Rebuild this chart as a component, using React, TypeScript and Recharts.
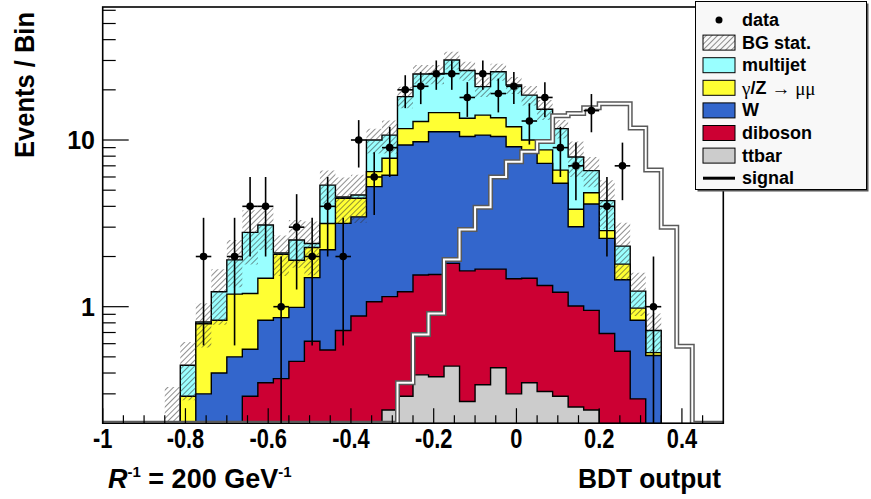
import React from 'react';
import { Area, ComposedChart, ErrorBar, Line, Scatter, XAxis, YAxis } from 'recharts';

// BDT output bins: 40 bins of 0.0375 from -1 to 0.5
const binEdges = [
  -1, -0.9625, -0.925, -0.8875, -0.85, -0.8125, -0.775, -0.7375, -0.7, -0.6625,
  -0.625, -0.5875, -0.55, -0.5125, -0.475, -0.4375, -0.4, -0.3625, -0.325, -0.2875,
  -0.25, -0.2125, -0.175, -0.1375, -0.1, -0.0625, -0.025, 0.0125, 0.05, 0.0875,
  0.125, 0.1625, 0.2, 0.2375, 0.275, 0.3125, 0.35, 0.3875, 0.425, 0.4625, 0.5,
];

// background processes, events per bin
const ttbar = [
  0, 0, 0, 0, 0, 0, 0, 0, 0, 0, 0, 0, 0, 0, 0, 0, 0, 0.05, 0.24, 0.29,
  0.39, 0.38, 0.44, 0.27, 0.34, 0.43, 0.3, 0.35, 0.31, 0.29, 0.25, 0.24, 0.1, 0.05, 0.02, 0, 0, 0, 0, 0,
];
const diboson = [
  0, 0, 0, 0, 0, 0, 0.02, 0.05, 0.19, 0.29, 0.35, 0.37, 0.47, 0.62, 0.55, 0.72, 0.88, 1.02, 0.91, 0.94,
  1.16, 1.18, 1.38, 1.37, 1.34, 1.25, 1.17, 1.13, 1.03, 0.93, 0.76, 0.71, 0.59, 0.49, 0.26, 0.15, 0, 0, 0, 0,
];
const wjets = [
  0, 0, 0, 0, 0.02, 0.1, 0.28, 0.35, 0.31, 0.265, 0.48, 0.49, 0.52, 0.875, 1.645, 2.44, 2.58, 4.18, 5.0, 8.1,
  8.21, 9.64, 9.38, 8.86, 9.02, 8.82, 7.65, 7.24, 5.9, 4.28, 2.01, 3.18, 1.88, 0.91, 0.55, 0.36, 0, 0, 0, 0,
];
const zmumu = [
  0, 0, 0, 0, 0.06, 0.19, 0.49, 0.43, 0.69, 0.645, 0.65, 1.2, 0.91, 0.77, 0.96, 1.31, 1.01, 1.21, 1.62, 2.37,
  3.14, 3.4, 3.4, 3.0, 3.4, 3.1, 2.88, 1.28, 1.48, 1.1, 0.82, 0.7, 0.29, 0.35, 0.15, 0.02, 0, 0, 0, 0,
];
const multijet = [
  0, 0, 0, 0, 0.05, 0.155, 0.02, 0.4, 0.72, 1.59, 1.61, 0.04, 0.61, 0.13, 2.21, 0.08, 0.21, 3.54, 2.93, 6.5,
  12.0, 10.3, 15.6, 12.6, 6.8, 12.1, 9.4, 8.6, 6.58, 5.1, 4.06, 1.72, 1.47, 0.51, 0.26, 0.19, 0, 0, 0, 0,
];
// statistical uncertainty of the total background
const bgStat = [
  0, 0, 0, 0, 0.2, 0.17, 0.24, 0.45, 0.6, 1.0, 0.9, 0.57, 0.8, 0.85, 1.2, 1.4, 1.5, 1.7, 2.4, 2.7,
  3.3, 3.3, 3.7, 3.4, 2.8, 3.0, 2.5, 2.5, 2.1, 1.5, 1.9, 1.35, 1.4, 0.88, 0.36, 0.19, 0, 0, 0, 0,
];
const dataCounts = [
  0, 0, 0, 0, 0, 0, 2, 0, 2, 4, 4, 1, 3, 2, 4, 2, 10, 6, 9, 20,
  21, 25, 25, 18, 25, 19, 21, 13, 18, 9, 7, 15, 4, 7, 0, 1, 0, 0, 0, 0,
];
const signal = [
  0.1, 0.1, 0.1, 0.1, 0.1, 0.1, 0.1, 0.1, 0.1, 0.1, 0.1, 0.1, 0.1, 0.1, 0.1, 0.1, 0.1, 0.1, 0.1, 0.35,
  0.68, 0.91, 1.92, 2.9, 3.95, 6.0, 7.4, 8.5, 9.8, 14.0, 14.4, 15.6, 16.5, 16.5, 11.8, 6.6, 3.0, 0.58, 0.1, 0.1,
];

const xMajor = [-1, -0.8, -0.6, -0.4, -0.2, 0, 0.2, 0.4];
const xMinor = [-0.95, -0.9, -0.85, -0.75, -0.7, -0.65, -0.55, -0.5, -0.45, -0.35, -0.3, -0.25,
  -0.15, -0.1, -0.05, 0.05, 0.1, 0.15, 0.25, 0.3, 0.35, 0.45];
const yMajor = [1, 10];
const yMinor = [0.3, 0.4, 0.5, 0.6, 0.7, 0.8, 0.9, 2, 3, 4, 5, 6, 7, 8, 9, 20, 30, 40, 50, 60];

const W = 871;
const H = 499;
const PLOT_L = 102.7;
const PLOT_R = 723.3;
const PLOT_T = 7;
const PLOT_B = 423.2;
const Y_MIN = 0.2;
const Y_MAX = 62.8;
const FLOOR = 0.01;
const FONT = '"Liberation Sans", Arial, Helvetica, sans-serif';

const C_MJ = '#99ffff';
const C_Z = '#ffff33';
const C_W = '#3366cc';
const C_VV = '#cc0033';
const C_TT = '#cccccc';

// cumulative stack tops; the closing edge repeats the last bin for the step curves
const rows = binEdges.map((x, i) => {
  const k = Math.min(i, ttbar.length - 1);
  const tt = ttbar[k];
  const vv = tt + diboson[k];
  const w = vv + wjets[k];
  const z = w + zmumu[k];
  const mj = z + multijet[k];
  return {
    x,
    tt: Math.max(tt, FLOOR),
    vv: Math.max(vv, FLOOR),
    w: Math.max(w, FLOOR),
    z: Math.max(z, FLOOR),
    mj: Math.max(mj, FLOOR),
    band: [Math.max(mj - bgStat[k], FLOOR), Math.max(mj + bgStat[k], FLOOR)],
    sig: Math.max(signal[k], Y_MIN),
  };
});

const points = dataCounts.flatMap((n, k) =>
  n > 0
    ? [{
        x: (binEdges[k] + binEdges[k + 1]) / 2,
        n,
        ey: [n - Math.max(n - Math.sqrt(n), Y_MIN), Math.sqrt(n)],
        ex: (binEdges[k + 1] - binEdges[k]) / 2,
      }]
    : []
);

function fmtX(v) {
  return String(Math.round(v * 10) / 10);
}

function XTick(props) {
  const { x, payload } = props;
  const major = xMajor.includes(payload.value);
  return (
    <g>
      <line x1={x} x2={x} y1={PLOT_B} y2={PLOT_B - (major ? 15 : 8)} stroke="#000" strokeWidth={1.2} />
      {major && (
        <text
          transform={`translate(${x},${PLOT_B + 15}) scale(0.78,1)`}
          textAnchor="middle"
          dominantBaseline="central"
          fontSize={28}
          fontWeight="bold"
          fontFamily={FONT}
          fill="#000"
        >
          {fmtX(payload.value)}
        </text>
      )}
    </g>
  );
}

function YTick(props) {
  const { y, payload } = props;
  const major = yMajor.includes(payload.value);
  return (
    <g>
      <line x1={PLOT_L} x2={PLOT_L + (major ? 26 : 13)} y1={y} y2={y} stroke="#000" strokeWidth={1.2} />
      {major && (
        <text x={95} y={y} textAnchor="end" dominantBaseline="central" fontSize={25} fontWeight="bold" fontFamily={FONT} fill="#000">
          {payload.value}
        </text>
      )}
    </g>
  );
}

const legendRows = [
  { label: 'data', kind: 'dot' },
  { label: 'BG stat.', kind: 'hatch' },
  { label: 'multijet', kind: 'box', color: C_MJ },
  { label: 'zmm', kind: 'box', color: C_Z },
  { label: 'W', kind: 'box', color: C_W },
  { label: 'diboson', kind: 'box', color: C_VV },
  { label: 'ttbar', kind: 'box', color: C_TT },
  { label: 'signal', kind: 'line' },
];

function Overlay() {
  return (
    <svg width={W} height={H} style={{ position: 'absolute', left: 0, top: 0, pointerEvents: 'none' }}>
      <defs>
        <pattern id="legHatch" patternUnits="userSpaceOnUse" width={4} height={4} patternTransform="rotate(45)">
          <line x1={0} y1={0} x2={0} y2={4} stroke="#333" strokeWidth={1.1} />
        </pattern>
      </defs>
      <rect x={PLOT_L} y={PLOT_T} width={PLOT_R - PLOT_L} height={PLOT_B - PLOT_T} fill="none" stroke="#000" strokeWidth={1.6} />
      <text
        transform="translate(34,85) rotate(-90)"
        textAnchor="middle"
        fontSize={27}
        fontWeight="bold"
        fontFamily={FONT}
        textLength={146}
        lengthAdjust="spacingAndGlyphs"
      >
        Events / Bin
      </text>
      <text x={721} y={488} textAnchor="end" fontSize={27} fontWeight="bold" fontFamily={FONT} textLength={143} lengthAdjust="spacingAndGlyphs">
        BDT output
      </text>
      <text x={108} y={488} fontSize={27} fontWeight="bold" fontFamily={FONT}>
        <tspan fontStyle="italic">R</tspan>
        <tspan dy={-11} fontSize={15}>-1</tspan>
        <tspan dy={11}> = 200 GeV</tspan>
        <tspan dy={-11} fontSize={15}>-1</tspan>
      </text>
      <g>
        <rect x={697.5} y={3.5} width={171} height={188} fill="#555" />
        <rect x={695.5} y={1.5} width={171} height={188} fill="#f8f8f8" stroke="#000" strokeWidth={1} />
        {legendRows.map((r, i) => {
          const cy = 20 + 22.6 * i;
          let icon;
          if (r.kind === 'dot') icon = <circle cx={719} cy={cy} r={3.5} fill="#000" />;
          else if (r.kind === 'line') icon = <line x1={703} x2={735} y1={cy} y2={cy} stroke="#000" strokeWidth={3} />;
          else
            icon = (
              <rect
                x={703}
                y={cy - 7.5}
                width={32}
                height={15}
                fill={r.kind === 'hatch' ? 'url(#legHatch)' : r.color}
                stroke="#000"
                strokeWidth={1}
              />
            );
          return (
            <g key={r.label}>
              {icon}
              <text x={742} y={cy} dominantBaseline="central" fontSize={18} fontWeight="bold" fontFamily={FONT}>
                {r.label === 'zmm' ? (
                  <>
                    <tspan fontWeight="normal" fontFamily='"Liberation Serif", serif' fontSize={19}>γ</tspan>
                    <tspan>/Z </tspan>
                    <tspan fontWeight="normal" fontFamily='"Liberation Serif", serif' fontSize={19}>→ μμ</tspan>
                  </>
                ) : (
                  r.label
                )}
              </text>
            </g>
          );
        })}
      </g>
    </svg>
  );
}

export default function App() {
  return (
    <div style={{ position: 'absolute', left: 0, top: 0, width: W, height: H, background: '#fff' }}>
      <ComposedChart
        width={W}
        height={H}
        data={rows}
        margin={{ top: PLOT_T, right: W - PLOT_R, bottom: 0, left: 0 }}
      >
        <defs>
          <pattern id="bgHatch" patternUnits="userSpaceOnUse" width={4} height={4} patternTransform="rotate(45)">
            <line x1={0} y1={0} x2={0} y2={4} stroke="#333" strokeWidth={1.1} />
          </pattern>
        </defs>
        <XAxis
          dataKey="x"
          type="number"
          domain={[-1, 0.5]}
          allowDataOverflow
          ticks={[...xMajor, ...xMinor]}
          interval={0}
          tick={(p) => <XTick {...p} />}
          tickLine={false}
          axisLine={false}
          height={H - PLOT_B}
        />
        <YAxis
          type="number"
          scale="log"
          domain={[Y_MIN, Y_MAX]}
          allowDataOverflow
          ticks={[...yMinor, ...yMajor]}
          interval={0}
          tick={(p) => <YTick {...p} />}
          tickLine={false}
          axisLine={false}
          width={PLOT_L}
        />
        <Area dataKey="mj" type="stepAfter" baseValue={Y_MIN} fill={C_MJ} fillOpacity={1} stroke="#000" strokeWidth={1.4} dot={false} activeDot={false} isAnimationActive={false} />
        <Area dataKey="z" type="stepAfter" baseValue={Y_MIN} fill={C_Z} fillOpacity={1} stroke="#000" strokeWidth={1.4} dot={false} activeDot={false} isAnimationActive={false} />
        <Area dataKey="w" type="stepAfter" baseValue={Y_MIN} fill={C_W} fillOpacity={1} stroke="#000" strokeWidth={1.4} dot={false} activeDot={false} isAnimationActive={false} />
        <Area dataKey="vv" type="stepAfter" baseValue={Y_MIN} fill={C_VV} fillOpacity={1} stroke="#000" strokeWidth={1.4} dot={false} activeDot={false} isAnimationActive={false} />
        <Area dataKey="tt" type="stepAfter" baseValue={Y_MIN} fill={C_TT} fillOpacity={1} stroke="#000" strokeWidth={1.4} dot={false} activeDot={false} isAnimationActive={false} />
        <Area dataKey="band" type="stepAfter" fill="url(#bgHatch)" fillOpacity={1} stroke="none" dot={false} activeDot={false} isAnimationActive={false} />
        <Line dataKey="sig" type="stepAfter" stroke="#5a5a5a" strokeWidth={5} dot={false} activeDot={false} isAnimationActive={false} />
        <Line dataKey="sig" type="stepAfter" stroke="#ffffff" strokeWidth={2} dot={false} activeDot={false} isAnimationActive={false} />
        <Scatter
          data={points}
          dataKey="n"
          fill="#000"
          isAnimationActive={false}
          shape={(p) => <circle cx={p.cx} cy={p.cy} r={3.8} fill="#000" />}
        >
          <ErrorBar dataKey="ey" direction="y" width={0} stroke="#000" strokeWidth={1.6} />
          <ErrorBar dataKey="ex" direction="x" width={0} stroke="#000" strokeWidth={1.6} />
        </Scatter>
      </ComposedChart>
      <Overlay />
    </div>
  );
}
